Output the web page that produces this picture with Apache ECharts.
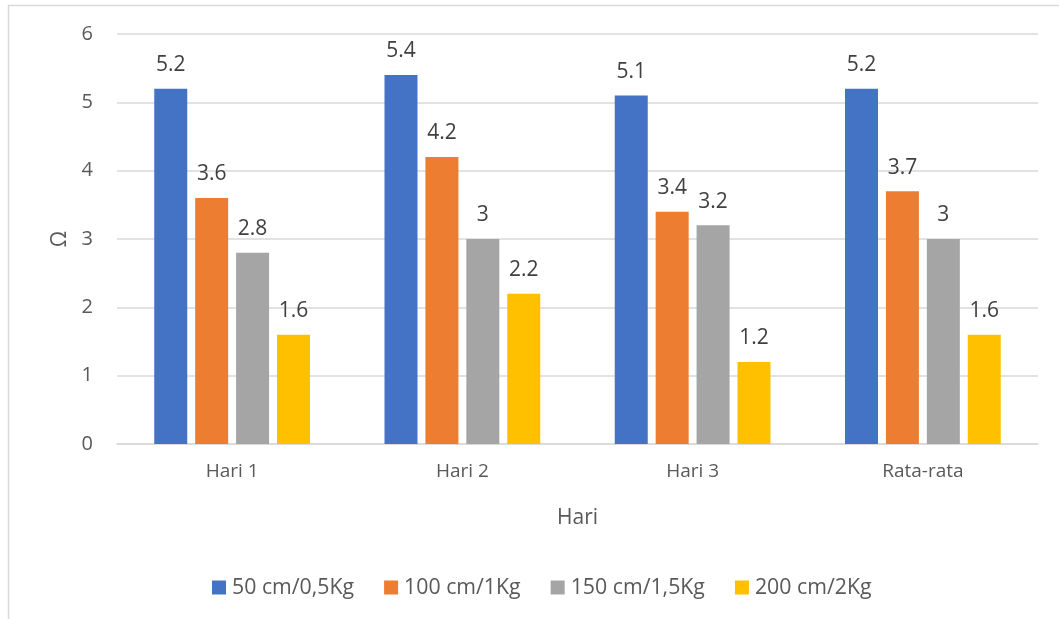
<!DOCTYPE html>
<html><head><meta charset="utf-8">
<script src="https://cdn.jsdelivr.net/npm/echarts@6/dist/echarts.min.js"></script>
<style>html,body{margin:0;padding:0;background:#fff}#c{width:1059px;height:619px}</style>
</head><body><div id="c"></div>
<script>
const categories = ['Hari 1', 'Hari 2', 'Hari 3', 'Rata-rata'];
const seriesNames = ['50 cm/0,5Kg', '100 cm/1Kg', '150 cm/1,5Kg', '200 cm/2Kg'];
const s50 = [5.2, 5.4, 5.1, 5.2];
const s100 = [3.6, 4.2, 3.4, 3.7];
const s150 = [2.8, 3, 3.2, 3];
const s200 = [1.6, 2.2, 1.2, 1.6];
const yTicks = [0, 1, 2, 3, 4, 5, 6];
const colors = ['#4472C4', '#ED7D31', '#A5A5A5', '#FFC000'];
const font = '"Open Sans", sans-serif';
const chart = echarts.init(document.getElementById('c'));
const values = [s50, s100, s150, s200];
chart.setOption({
  animation: false,
  graphic: [{type: 'rect', shape: {x: 8.5, y: 5.5, width: 1100, height: 700}, style: {fill: 'none', stroke: '#d9d9d9', lineWidth: 1.5}, silent: true}],
  grid: {left: 117, right: 21, top: 34, bottom: 175, containLabel: false},
  xAxis: {
    type: 'category', data: categories,
    name: 'Hari', nameLocation: 'middle', nameGap: 64,
    nameTextStyle: {color: '#595959', fontSize: 21, fontFamily: font},
    axisLine: {lineStyle: {color: '#d9d9d9', width: 1.5}},
    axisTick: {show: false},
    axisLabel: {color: '#595959', fontSize: 19, fontFamily: font, margin: 18}
  },
  yAxis: {
    type: 'value', min: yTicks[0], max: yTicks[yTicks.length - 1], interval: 1,
    name: 'Ω', nameLocation: 'middle', nameGap: 44, nameRotate: 90,
    nameTextStyle: {color: '#595959', fontSize: 21, fontFamily: font},
    axisLine: {show: false}, axisTick: {show: false},
    axisLabel: {color: '#595959', fontSize: 20, fontFamily: font, margin: 24},
    splitLine: {lineStyle: {color: '#d9d9d9', width: 1.5}}
  },
  legend: {
    bottom: 16, left: 207, padding: 5, itemWidth: 14, itemHeight: 14, itemGap: 30,
    icon: 'rect',
    textStyle: {color: '#595959', fontSize: 21.3, fontFamily: font, padding: [0, 0, 0, 1]},
    data: seriesNames
  },
  series: seriesNames.map((n, i) => ({
    name: n, type: 'bar', data: values[i], barWidth: 33, barGap: '24%',
    itemStyle: {color: colors[i]},
    label: {show: true, position: 'top', distance: 13, color: '#404040', fontSize: 21, fontFamily: font}
  }))
});
</script></body></html>
